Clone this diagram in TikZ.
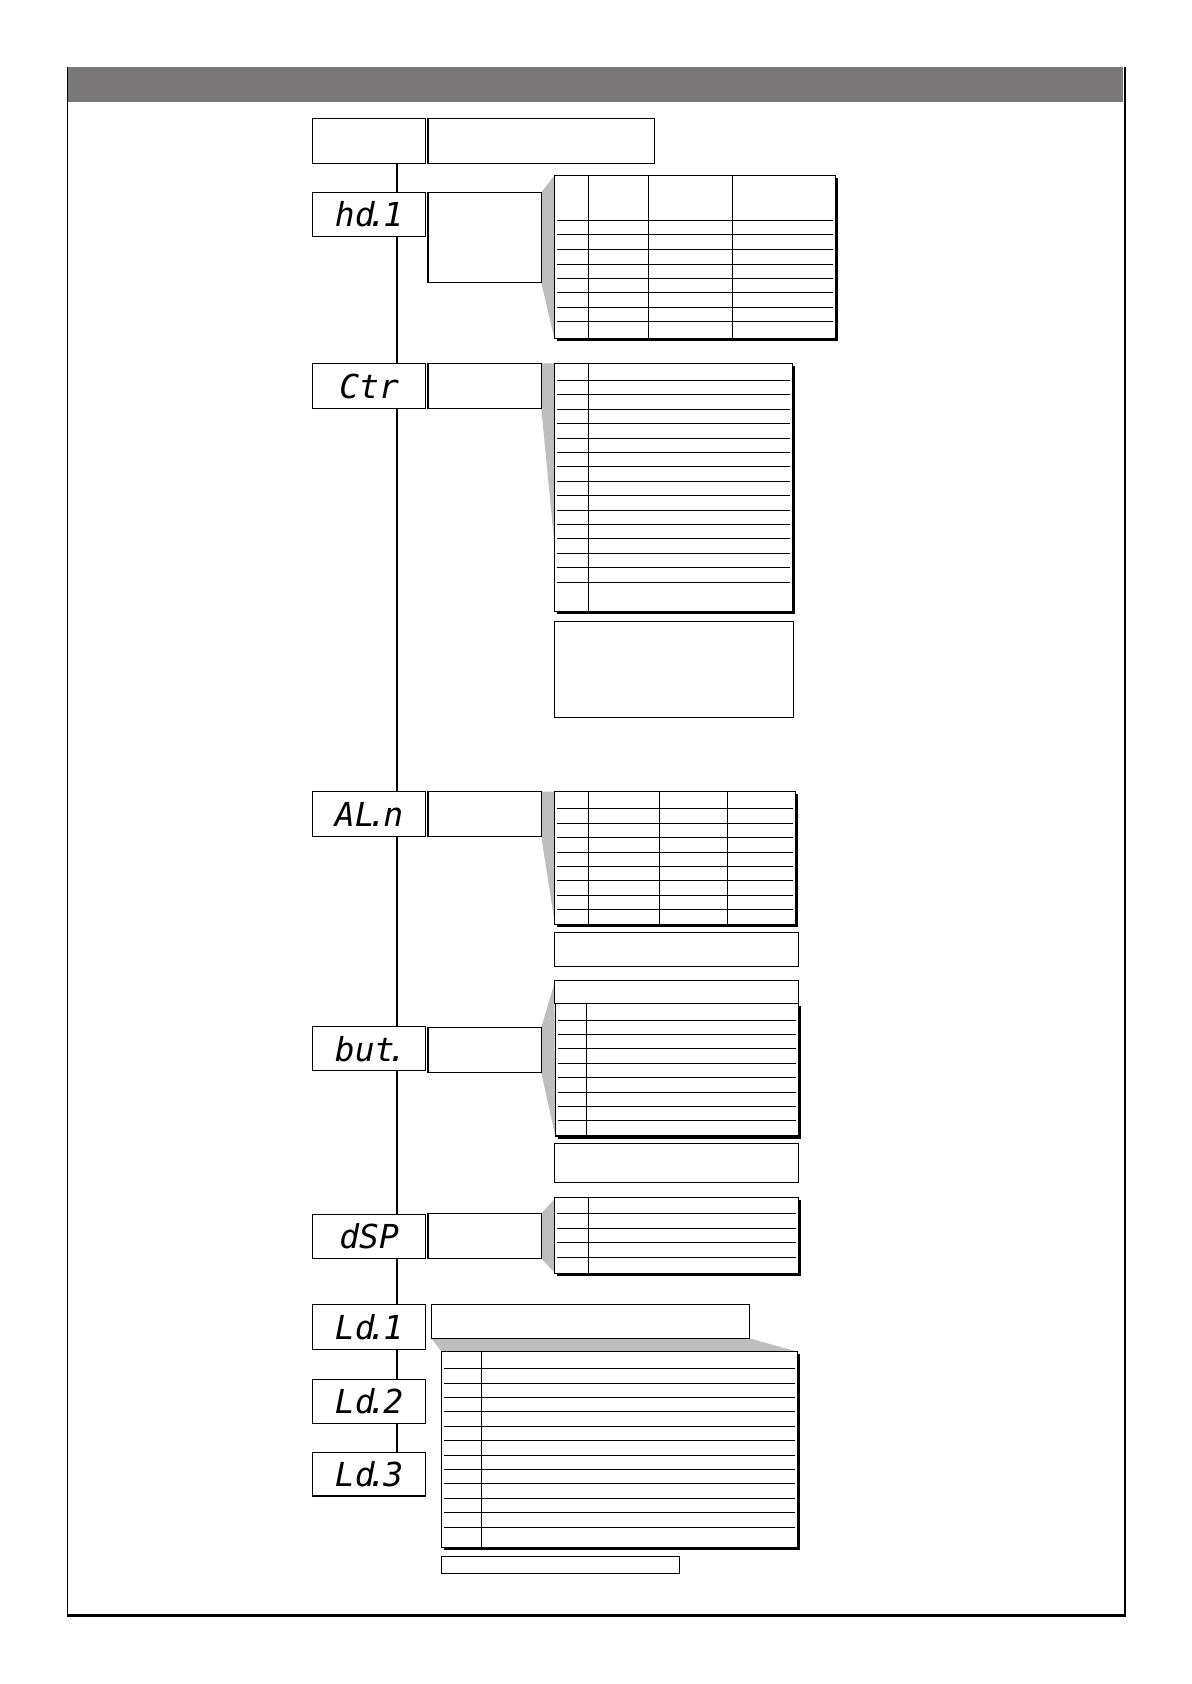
\documentclass[tikz,border=0pt]{standalone}
\usepackage{fontspec}
\newfontfamily\segfont{DejaVu Sans Mono}
\usetikzlibrary{fit,calc,backgrounds}
\definecolor{bandgray}{RGB}{122,120,120}
\definecolor{wedgegray}{RGB}{190,190,190}
\tikzset{
  box/.style={draw, line width=0.65pt, inner sep=0pt, outer sep=0pt, fill=white},
  disp/.style={box, minimum width=56.6pt, font=\segfont\itshape\fontsize{16.5}{16.5}\selectfont},
  tbl/.style={draw, line width=0.6pt, fill=white, inner sep=0pt, outer sep=0pt},
  rulel/.style={line width=0.5pt},
  mainline/.style={line width=1pt},
  wedge/.style={fill=wedgegray, draw=none},
}
\newcommand\segdot{\kern-.22em.\kern-.12em}
\newcommand\mktable[7]{%
  \fill (#2+2.5,#3+2.5) rectangle (#4+2.5,#5+2.5);
  \node[tbl, fit={(#2,#3) (#4,#5)}] (#1) {};
  \foreach \c in {#6} {\draw[rulel] (\c,#3) -- (\c,#5);}
  \foreach \r in {#7} {\draw[rulel] (#2+2.5,\r) -- (#4-2.5,\r);}
}
\begin{document}
\begin{tikzpicture}[x=0.5pt,y=-0.5pt]
\useasboundingbox (0,0) rectangle (1191,1684);
% frame
\fill[bandgray] (67.7,67.5) rectangle (1122.7,102.3);
\draw[line width=0.75pt] (67.7,67.5) -- (67.7,1615.5);
\draw[line width=1pt] (1124.7,67.5) -- (1124.7,1615.5);
\draw[line width=1.25pt] (67,1615.5) -- (1125.7,1615.5);

% display boxes
\node[disp, minimum height=22.5pt] (b0) at (369.1,141) {};
\node[disp, minimum height=22.2pt] (hd1) at (369.1,214.5) {hd\segdot 1};
\node[disp, minimum height=22.7pt] (ctr) at (369.1,386) {Ctr};
\node[disp, minimum height=22.5pt] (aln) at (369.1,814.2) {AL\segdot n};
\node[disp, minimum height=22pt] (but) at (369.1,1048.7) {but\segdot};
\node[disp, minimum height=22.2pt] (dsp) at (369.1,1236.5) {dSP};
\node[disp, minimum height=22.5pt] (ld1) at (369.1,1326.8) {Ld\segdot 1};
\node[disp, minimum height=22pt] (ld2) at (369.1,1401.3) {Ld\segdot 2};
\node[disp, minimum height=21.85pt] (ld3) at (369.1,1474.2) {Ld\segdot 3};

% description boxes
\node[box, fit={(427.9,118.5) (654.3,163.5)}] (t0) {};
\node[box, fit={(427.9,192.3) (541.3,282.7)}] (hd1d) {};
\node[box, fit={(427.9,363.3) (541.3,408.7)}] (ctrd) {};
\node[box, fit={(427.9,791.7) (541.3,836.7)}] (alnd) {};
\node[box, fit={(427.9,1027.3) (541.3,1072.7)}] (butd) {};
\node[box, fit={(427.9,1213.3) (541.3,1258.7)}] (dspd) {};
\node[box, fit={(431.3,1304.3) (749.3,1338.3)}] (ld1d) {};

% tables
\mktable{t1}{554.3}{175.5}{835.7}{338.5}{588.5,648.2,732.1}{220.5,235,249.3,264.3,278.7,292.7,307.3,321.3}
\mktable{t2}{554.3}{363.3}{792.7}{611.7}{588.3}{380.3,394.3,409.3,423.3,438.3,452.3,466.3,481.3,495.3,510.3,524.3,538.3,553.3,567.3,582.3}
\node[box, fit={(554.3,621.7) (793.3,717.3)}] (n2) {};
\mktable{t3}{554.3}{791.7}{795.7}{924.3}{588.3,659.3,727.3}{808.3,823.3,837.7,852.3,866.3,880.3,895.3,909.3}
\node[box, fit={(554.3,932.3) (798.7,966.7)}] (n3) {};
\node[box, fit={(554.3,980.3) (798.7,1003.3)}] (h4) {};
\mktable{t4}{555.3}{1003.3}{798.3}{1136}{586}{1020,1034,1048.3,1063,1077.3,1092,1106.3,1120.3}
\node[box, fit={(554.3,1143.3) (798.7,1182.3)}] (n4) {};
\mktable{t5}{554.3}{1197.3}{798.3}{1273.3}{588.3}{1213.3,1228.3,1242.3,1257.3}
\mktable{t6}{441.7}{1351.7}{797.7}{1547.3}{481.3}{1368.3,1383.3,1397.3,1411.3,1426.3,1440.3,1455.3,1469.3,1483.3,1498.3,1512.3,1527.3}
\node[box, fit={(441.7,1556.7) (679.3,1573.3)}] (n6) {};

% wedges
\begin{pgfonlayer}{background}
\fill[wedge] (hd1d.north east) -- (t1.north west) -- (t1.south west) -- (hd1d.south east) -- cycle;
\fill[wedge] (ctrd.north east) -- (t2.north west) -- ($(t2.north west)!0.726!(t2.south west)$) -- (ctrd.south east) -- cycle;
\fill[wedge] (alnd.north east) -- (t3.north west) -- ($(t3.north west)!0.97!(t3.south west)$) -- (alnd.south east) -- cycle;
\fill[wedge] (butd.north east) -- ($(h4.north west)+(0,3)$) -- (t4.south west) -- (butd.south east) -- cycle;
\fill[wedge] (dspd.north east) -- ($(t5.north west)+(0,2)$) -- ($(t5.south west)+(0,-1)$) -- (dspd.south east) -- cycle;
\fill[wedge] (ld1d.south west) -- (ld1d.south east) -- (t6.north east) -- (t6.north west) -- cycle;
\end{pgfonlayer}

% main vertical line
\coordinate (lx) at (396.7,0);
\foreach \a/\b in {b0/hd1, hd1/ctr, ctr/aln, aln/but, but/dsp, dsp/ld1, ld1/ld2, ld2/ld3}
  \draw[mainline] (\a.south -| lx) -- (\b.north -| lx);
\end{tikzpicture}
\end{document}
